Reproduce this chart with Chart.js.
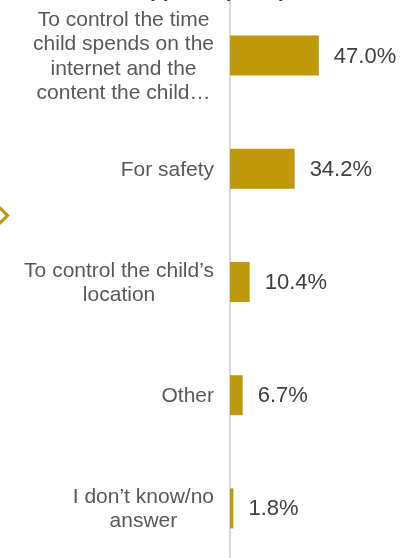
<!DOCTYPE html>
<html>
<head>
<meta charset="utf-8">
<script src="https://cdn.jsdelivr.net/npm/chart.js@4"></script>
<style>
  body { margin: 0; background: #fff; overflow: hidden; width: 412px; height: 558px; position: relative; }
  #chart { position: absolute; top: -1px; left: 0; }
  .marker {
    position: absolute; left: -6.5px; top: 208.5px;
    width: 7px; height: 7px; border: 3px solid #BF990A;
    transform: rotate(45deg);
  }
</style>
</head>
<body>
<div class="marker"></div>
<canvas id="chart" width="419" height="566"></canvas>
<script>
"use strict";

const titleText = "Reasons for app use (n=50)";
const categories = [
  ["To control the time", "child spends on the", "internet and the", "content the child…"],
  ["For safety"],
  ["To control the child’s", "location"],
  ["Other"],
  ["I don’t know/no", "answer"],
];
const shares = [47.0, 34.2, 10.4, 6.7, 1.8];

const gold = "#BF990A";

// category labels: block right-aligned to the axis, lines centred in the block
const labelPlugin = {
  id: "blockLabels",
  afterDraw(chart) {
    const { ctx, chartArea } = chart;
    const yScale = chart.scales.y;
    ctx.save();
    ctx.font = "21px 'Liberation Sans', Arial, sans-serif";
    ctx.fillStyle = "#595959";
    ctx.textAlign = "center";
    ctx.textBaseline = "middle";
    categories.forEach((lines, i) => {
      const y = yScale.getPixelForTick(i);
      const maxW = Math.max(...lines.map((l) => ctx.measureText(l).width));
      const cx = chartArea.left - 16 - maxW / 2;
      const start = y - ((lines.length - 1) * 24.5) / 2;
      lines.forEach((l, j) => ctx.fillText(l, cx, start + j * 24.5 + 1));
    });

    // value labels next to bars
    ctx.font = "22px 'Liberation Sans', Arial, sans-serif";
    ctx.fillStyle = "#404040";
    ctx.textAlign = "left";
    chart.getDatasetMeta(0).data.forEach((bar, i) => {
      ctx.fillText(shares[i].toFixed(1) + "%", bar.x + 15, bar.y + 1);
    });

    // title, mostly cut off at the top
    ctx.font = "bold 21px 'Liberation Sans', Arial, sans-serif";
    ctx.fillStyle = "#404040";
    ctx.textBaseline = "alphabetic";
    const pre = titleText.slice(0, titleText.indexOf("pp"));
    const x0 = 150 - ctx.measureText(pre).width;
    ctx.fillText(titleText, x0, -2);
    ctx.restore();
  },
};

new Chart(document.getElementById("chart"), {
  type: "bar",
  data: {
    labels: categories,
    datasets: [
      {
        data: shares,
        backgroundColor: gold,
        barPercentage: 1,
        categoryPercentage: 40 / 113.2,
      },
    ],
  },
  options: {
    indexAxis: "y",
    responsive: false,
    animation: false,
    layout: { padding: { left: 230, right: 0, top: 0, bottom: 0 } },
    plugins: { legend: { display: false }, tooltip: { enabled: false } },
    scales: {
      x: { display: false, min: 0, max: 100 },
      y: {
        afterFit: (s) => { s.width = 0; },
        grid: { display: false },
        ticks: { display: false },
        border: { display: true, color: "#d9d9d9", width: 2 },
      },
    },
  },
  plugins: [labelPlugin],
});
</script>
</body>
</html>
